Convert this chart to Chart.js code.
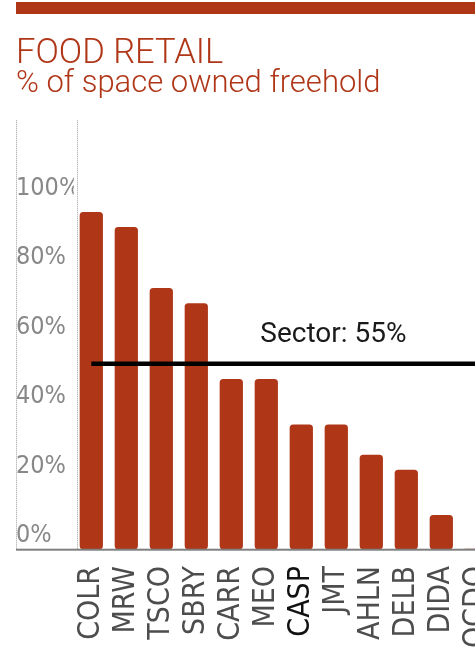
<!DOCTYPE html>
<html>
<head>
<meta charset="utf-8">
<script src="https://cdn.jsdelivr.net/npm/chart.js@4.4.1/dist/chart.umd.min.js"></script>
<style>
  html, body { margin: 0; padding: 0; overflow: hidden; background: #fff; width: 475px; height: 652px; }
  #wrap { position: absolute; left: 0; top: 0; width: 500px; height: 652px; }
</style>
</head>
<body>
<div id="wrap"><canvas id="c" width="500" height="652"></canvas></div>
<script>
// ---- data ----
const categories = ['COLR', 'MRW', 'TSCO', 'SBRY', 'CARR', 'MEO', 'CASP', 'JMT', 'AHLN', 'DELB', 'DIDA', 'OCDO'];
const freeholdShare = [100, 95.5, 77.4, 72.9, 50.4, 50.4, 36.9, 36.9, 27.9, 23.4, 10.0, 0];
const sectorAverage = 55;
const tickValues = [0, 20, 40, 60, 80, 100];
const titleText = 'FOOD RETAIL';
const subtitleText = '% of space owned freehold';

// ---- styles ----
const RED = '#b03618';
const NARROW = "'Liberation Sans Narrow', 'DejaVu Sans Condensed', sans-serif";
const LIGHT = "Roboto, 'Open Sans', sans-serif";

const decor = {
  id: 'decor',
  beforeDraw(chart) {
    const { ctx, chartArea, width } = chart;
    ctx.save();
    ctx.fillStyle = RED;
    ctx.fillRect(16, 2, width, 12);
    ctx.strokeStyle = '#a0a0a0';
    ctx.lineWidth = 1;
    ctx.setLineDash([1, 1]);
    const yl = chart.scales.yl;
    [yl.left + 0.5, chartArea.left + 3.7].forEach(x => {
      ctx.beginPath();
      ctx.moveTo(x, chartArea.top);
      ctx.lineTo(x, chartArea.bottom);
      ctx.stroke();
    });
    ctx.restore();
  },
  afterDatasetsDraw(chart) {
    const { ctx, chartArea, width, scales } = chart;
    ctx.save();
    ctx.fillStyle = '#7f7f7f';
    ctx.fillRect(16, chartArea.bottom - 0.3, width, 2);
    ctx.fillStyle = '#1a1a1a';
    ctx.font = "400 28px " + LIGHT;
    ctx.textAlign = 'left';
    ctx.textBaseline = 'alphabetic';
    ctx.fillText('Sector: ' + sectorAverage + '%',
      scales.x.getPixelForValue(4) + 29,
      scales.y.getPixelForValue(sectorAverage) - 22);
    ctx.restore();
  }
};

new Chart(document.getElementById('c'), {
  type: 'bar',
  data: {
    labels: categories,
    datasets: [
      {
        type: 'line',
        data: [
          { x: categories[0], y: sectorAverage },
          { x: categories[categories.length - 1], y: sectorAverage }
        ],
        borderColor: '#000',
        borderWidth: 4.5,
        borderCapStyle: 'butt',
        pointRadius: 0,
        yAxisID: 'y',
        order: 1
      },
      {
        type: 'bar',
        data: freeholdShare,
        backgroundColor: RED,
        borderRadius: 3.5,
        borderSkipped: false,
        barThickness: 22.6,
        yAxisID: 'y',
        order: 2
      }
    ]
  },
  options: {
    responsive: false,
    animation: false,
    layout: { autoPadding: false, padding: { left: 16, right: 6.2, top: 0, bottom: 0 } },
    plugins: {
      legend: { display: false },
      tooltip: { enabled: false },
      title: {
        display: true, text: titleText, align: 'start', color: RED,
        font: { family: LIGHT, weight: 300, size: 34.5, lineHeight: 0.8 },
        padding: { top: 40.5, bottom: 0 }
      },
      subtitle: {
        display: true, text: subtitleText, align: 'start', color: RED,
        font: { family: LIGHT, weight: 300, size: 31, lineHeight: 0.8 },
        padding: { top: 3.8, bottom: 23.6 }
      }
    },
    scales: {
      x: {
        type: 'category',
        grid: { display: false, drawTicks: false },
        border: { display: false },
        ticks: {
          autoSkip: false, minRotation: 90, maxRotation: 90, padding: 17,
          font: { family: NARROW, size: 30 },
          color: c => (c.index === 6 ? '#111111' : '#4d4d4d')
        },
        afterFit: s => { s.height = 103; s.paddingLeft = 0; s.paddingRight = 0; }
      },
      y: { display: false, min: 0, max: 127.3 },
      yl: {
        type: 'linear', position: 'left', min: -3.77, max: 119.58,
        grid: { display: false },
        border: { display: false },
        ticks: {
          crossAlign: 'far', padding: 0, color: '#888888',
          font: { family: NARROW, size: 25 },
          callback: v => v + '%'
        },
        afterBuildTicks: s => { s.ticks = tickValues.map(v => ({ value: v })); },
        afterFit: s => { s.width = 57.8; s.paddingTop = 0; s.paddingBottom = 0; }
      }
    }
  },
  plugins: [decor]
});
</script>
</body>
</html>
